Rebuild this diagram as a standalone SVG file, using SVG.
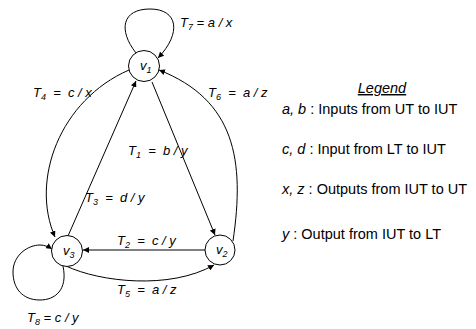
<svg xmlns="http://www.w3.org/2000/svg" width="476" height="329" viewBox="0 0 476 329">
<defs>
<marker id="ah" viewBox="0 0 10 10" refX="10" refY="5" markerWidth="6" markerHeight="6" orient="auto" markerUnits="userSpaceOnUse">
<path d="M0,0 L10,5 L0,10 z" fill="#000"/>
</marker>
<style>
.node{fill:#fff;stroke:#000;stroke-width:1}
.edge{fill:none;stroke:#000;stroke-width:1;marker-end:url(#ah)}
.nl{font-family:"Liberation Sans",Arial,sans-serif;font-style:italic;font-size:13px;fill:#000}
.lb{font-family:"Liberation Sans",Arial,sans-serif;font-style:italic;font-size:13px;fill:#000}
.lg{font-family:"Liberation Sans",Arial,sans-serif;font-size:14.5px;fill:#000}
.sub{font-size:9px}
</style>
</defs>
<rect width="476" height="329" fill="#fff"/>
<g id="connectors">
<path class="edge" d="M136,53 C118,30 122,9 150,9 C178,9 182,33 158,58"/>
<path class="edge" d="M129,70 C60,100 30,180 55,237"/>
<path class="edge" d="M233,241 C245,160 235,100 159,70"/>
<path class="edge" d="M152,82 L215,235"/>
<path class="edge" d="M68,236 L136,81"/>
<path class="edge" d="M205,250 L83,250"/>
<path class="edge" d="M66,266 C100,282 170,290 214,265"/>
<path class="edge" d="M63,266 C68,290 55,300 40,300 C22,300 13,288 13,272 C13,255 28,245 40,245 C45,245 49,247 52,249"/>
<text class="lb" x="180" y="27">T<tspan class="sub" dy="3">7</tspan><tspan dy="-3"> = a / x</tspan></text>
<text class="lb" x="33" y="97" xml:space="preserve">T<tspan class="sub" dy="3">4</tspan><tspan dy="-3">  =  c / x</tspan></text>
<text class="lb" x="208" y="97" xml:space="preserve">T<tspan class="sub" dy="3">6</tspan><tspan dy="-3">  =  a / z</tspan></text>
<text class="lb" x="128" y="155" xml:space="preserve">T<tspan class="sub" dy="3">1</tspan><tspan dy="-3">  =  b / y</tspan></text>
<text class="lb" x="85" y="202" xml:space="preserve">T<tspan class="sub" dy="3">3</tspan><tspan dy="-3">  =  d / y</tspan></text>
<text class="lb" x="117" y="245" xml:space="preserve">T<tspan class="sub" dy="3">2</tspan><tspan dy="-3">  =  c / y</tspan></text>
<text class="lb" x="117" y="294" xml:space="preserve">T<tspan class="sub" dy="3">5</tspan><tspan dy="-3">  =  a / z</tspan></text>
<text class="lb" x="27" y="322">T<tspan class="sub" dy="3">8</tspan><tspan dy="-3"> = c / y</tspan></text>
</g>
<g id="v1"><circle class="node" cx="144" cy="66" r="15.5"/><text class="nl" x="140" y="70">v<tspan class="sub" dy="3">1</tspan></text></g>
<g id="v2"><circle class="node" cx="220" cy="250" r="15"/><text class="nl" x="216" y="254">v<tspan class="sub" dy="3">2</tspan></text></g>
<g id="v3"><circle class="node" cx="67" cy="251" r="15.5"/><text class="nl" x="63" y="255">v<tspan class="sub" dy="3">3</tspan></text></g>
<g id="legend">
<text class="lg" x="382" y="93" text-anchor="middle" font-style="italic" text-decoration="underline">Legend</text>
<text class="lg" x="282" y="114"><tspan font-style="italic">a, b</tspan> : Inputs from UT to IUT</text>
<text class="lg" x="282" y="154"><tspan font-style="italic">c, d</tspan> : Input from LT to IUT</text>
<text class="lg" x="282" y="194"><tspan font-style="italic">x, z</tspan> : Outputs from IUT to UT</text>
<text class="lg" x="282" y="239"><tspan font-style="italic">y</tspan> : Output from IUT to LT</text>
</g>
</svg>
